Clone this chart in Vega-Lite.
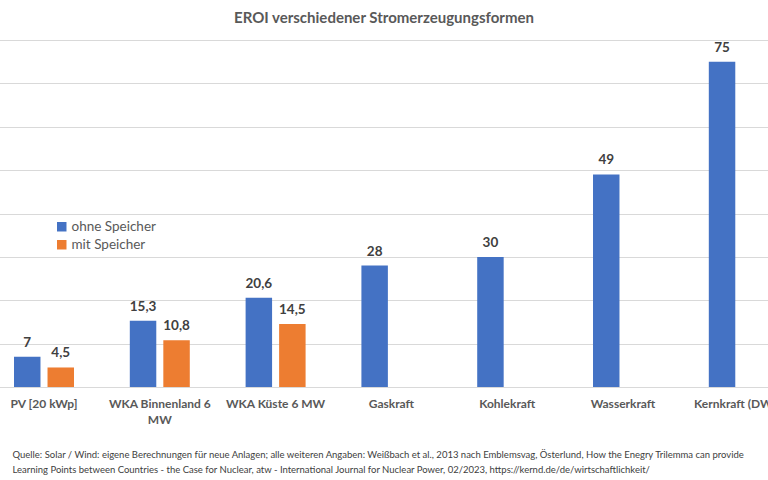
{
  "$schema": "https://vega.github.io/schema/vega-lite/v6.json",
  "autosize": "none",
  "width": 768,
  "height": 347,
  "padding": {"left": 0, "right": 0, "top": 40, "bottom": 93},
  "background": "white",
  "title": {
    "text": "EROI verschiedener Stromerzeugungsformen",
    "font": "Lato",
    "fontSize": 15,
    "fontWeight": "bold",
    "color": "#595959",
    "anchor": "middle",
    "frame": "group",
    "offset": 14
  },
  "config": {
    "view": {"stroke": null},
    "locale": {"number": {"decimal": ",", "thousands": ".", "grouping": [3], "currency": ["", " €"]}},
    "font": "Lato"
  },
  "data": {
    "values": [
      {"Form": "PV [20 kWp]", "Serie": "ohne Speicher", "EROI": 7},
      {"Form": "PV [20 kWp]", "Serie": "mit Speicher", "EROI": 4.5},
      {"Form": "WKA Binnenland 6 MW", "Serie": "ohne Speicher", "EROI": 15.3},
      {"Form": "WKA Binnenland 6 MW", "Serie": "mit Speicher", "EROI": 10.8},
      {"Form": "WKA Küste 6 MW", "Serie": "ohne Speicher", "EROI": 20.6},
      {"Form": "WKA Küste 6 MW", "Serie": "mit Speicher", "EROI": 14.5},
      {"Form": "Gaskraft", "Serie": "ohne Speicher", "EROI": 28},
      {"Form": "Kohlekraft", "Serie": "ohne Speicher", "EROI": 30},
      {"Form": "Wasserkraft", "Serie": "ohne Speicher", "EROI": 49},
      {"Form": "Kernkraft (DWR)", "Serie": "ohne Speicher", "EROI": 75}
    ]
  },
  "encoding": {
    "x": {
      "field": "Form",
      "type": "nominal",
      "sort": null,
      "scale": {"range": [-13.9, 796.7], "paddingInner": 0.482, "paddingOuter": 0.241},
      "axis": {
        "title": ["Quelle: Solar / Wind: eigene Berechnungen für neue Anlagen; alle weiteren Angaben: Weißbach et al., 2013 nach Emblemsvag, Österlund, How the Enegry Trilemma can provide", "Learning Points between Countries - the Case for Nuclear, atw - International Journal for Nuclear Power, 02/2023, https://kernd.de/de/wirtschaftlichkeit/"],
        "titleFont": "Lato",
        "titleFontSize": 9.5,
        "titleFontWeight": "normal",
        "titleColor": "#404040",
        "titleAlign": "left",
        "titleAnchor": "start",
        "titleBaseline": "top",
        "titleX": 12,
        "titleY": 62,
        "titleLineHeight": 15,
        "labelAngle": 0,
        "labelFont": "Lato",
        "labelFontSize": 12,
        "labelFontWeight": "bold",
        "labelColor": "#595959",
        "labelPadding": 11,
        "labelLineHeight": 16,
        "labelLimit": 300,
        "labelOverlap": false,
        "labelExpr": "datum.label == 'WKA Binnenland 6 MW' ? ['WKA Binnenland 6', 'MW'] : datum.label",
        "ticks": false,
        "domain": true,
        "domainColor": "#d9d9d9",
        "domainWidth": 1
      }
    },
    "xOffset": {
      "field": "Serie",
      "type": "nominal",
      "scale": {"domain": ["ohne Speicher", "mit Speicher"], "paddingInner": 0.21, "paddingOuter": 0}
    },
    "y": {
      "field": "EROI",
      "type": "quantitative",
      "scale": {"domain": [0, 80], "nice": false},
      "axis": {
        "title": null,
        "labels": false,
        "ticks": false,
        "domain": false,
        "grid": true,
        "gridColor": "#d9d9d9",
        "gridWidth": 1,
        "values": [0, 10, 20, 30, 40, 50, 60, 70, 80]
      }
    }
  },
  "layer": [
    {
      "mark": {"type": "bar"},
      "encoding": {
        "color": {
          "field": "Serie",
          "type": "nominal",
          "scale": {"domain": ["ohne Speicher", "mit Speicher"], "range": ["#4472C4", "#ED7D31"]},
          "legend": {
            "title": null,
            "orient": "none",
            "legendX": 55,
            "legendY": 180,
            "symbolType": "square",
            "symbolSize": 90,
            "symbolStrokeWidth": 0,
            "labelFont": "Lato",
            "labelFontSize": 13.5,
            "labelColor": "#595959",
            "rowPadding": 3,
            "labelOffset": 3
          }
        }
      }
    },
    {
      "mark": {"type": "text", "baseline": "bottom", "dy": -7, "font": "Lato", "fontSize": 13.5, "fontWeight": "bold", "color": "#404040"},
      "encoding": {
        "text": {"field": "EROI", "type": "quantitative", "format": ".1~f"}
      }
    }
  ]
}
